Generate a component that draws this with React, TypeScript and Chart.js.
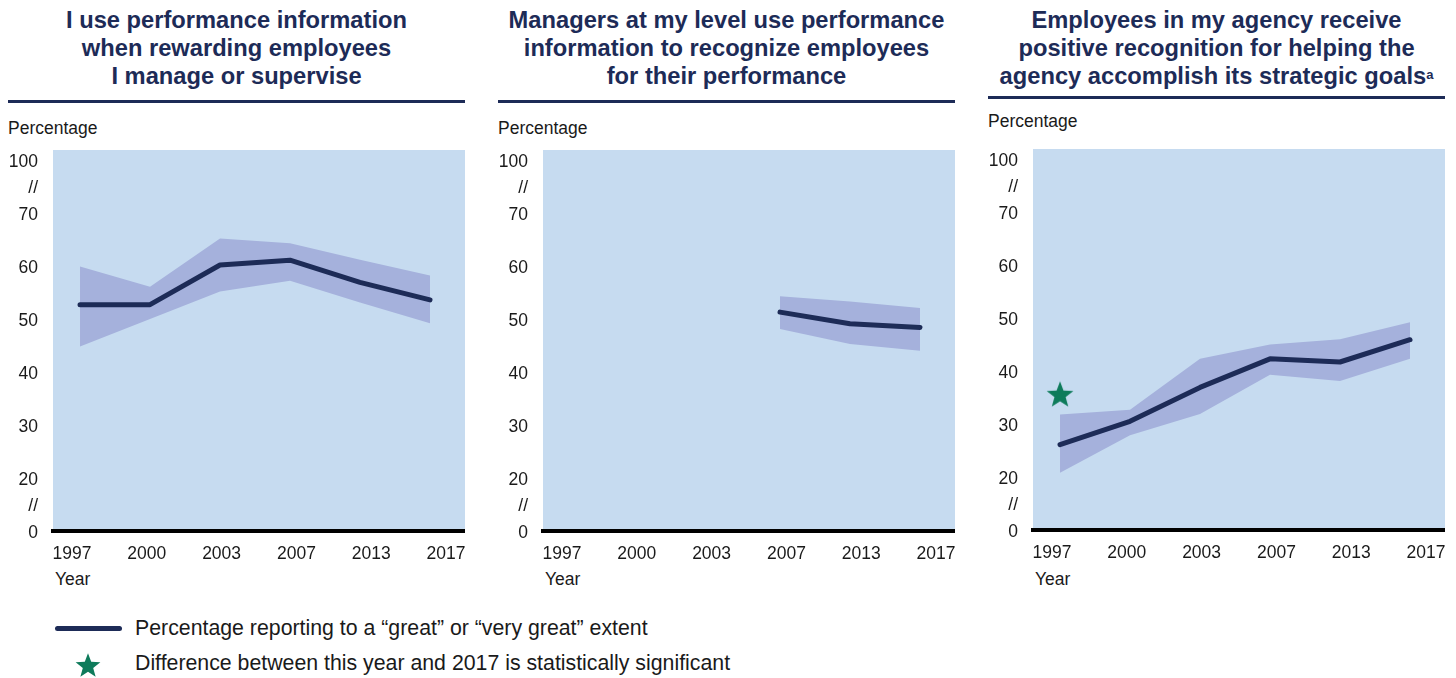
import React, { useEffect, useRef } from "react";
import { Chart, registerables } from "chart.js";

Chart.register(...registerables);

// ---------- data ----------
const years = ["1997", "2000", "2003", "2007", "2013", "2017"];

// broken y axis: 0 and 100 are drawn one step beyond 20 and 70
const yTickValues = [10, 15, 20, 30, 40, 50, 60, 70, 75, 80];
const yTickLabels = ["0", "//", "20", "30", "40", "50", "60", "70", "//", "100"];

const titles1 = ["I use performance information", "when rewarding employees", "I manage or supervise"];
const titles2 = ["Managers at my level use performance", "information to recognize employees", "for their performance"];
const titles3 = ["Employees in my agency receive", "positive recognition for helping the", "agency accomplish its strategic goals"];

const p1Line = [52.7, 52.7, 60.2, 61.1, 56.9, 53.6];
const p1Upper = [59.9, 56.1, 65.2, 64.3, 61.2, 58.2];
const p1Lower = [44.8, 50.0, 55.2, 57.2, 53.1, 49.2];

const p2Line = [null, null, null, 51.3, 49.1, 48.4];
const p2Upper = [null, null, null, 54.3, 53.3, 52.1];
const p2Lower = [null, null, null, 48.1, 45.3, 44.0];

const p3Line = [26.1, 30.5, 36.9, 42.3, 41.7, 45.9];
const p3Upper = [31.8, 32.7, 42.3, 45.0, 46.0, 49.2];
const p3Lower = [20.8, 27.9, 31.9, 39.3, 38.1, 42.3];

const p3StarYears = ["1997"];
const p3StarValues = [35.7];

const legendLine = "Percentage reporting to a \u201cgreat\u201d or \u201cvery great\u201d extent";
const legendStar = "Difference between this year and 2017 is statistically significant";

// ---------- styles ----------
const NAVY = "#1d2b57";
const BAND = "#a5b1dc";
const PLOT_BG = "#c6dbf0";
const GREEN = "#0e7b5b";
const TEXT = "#1a1a1a";
const FONT = "'Liberation Sans', Arial, sans-serif";

function makeStar(r: number, color: string) {
  const s = Math.ceil(r * 2) + 2;
  const c = document.createElement("canvas");
  c.width = s;
  c.height = s;
  const ctx = c.getContext("2d")!;
  ctx.fillStyle = color;
  ctx.beginPath();
  for (let i = 0; i < 10; i++) {
    const rad = i % 2 === 0 ? r : r * 0.42;
    const a = -Math.PI / 2 + (i * Math.PI) / 5;
    const x = s / 2 + rad * Math.cos(a);
    const y = s / 2 + 1.5 + rad * Math.sin(a);
    if (i === 0) ctx.moveTo(x, y);
    else ctx.lineTo(x, y);
  }
  ctx.closePath();
  ctx.fill();
  return c;
}

const plotBg = {
  id: "plotBg",
  beforeDraw(chart: any) {
    const { ctx, chartArea } = chart;
    ctx.save();
    ctx.fillStyle = PLOT_BG;
    ctx.fillRect(chartArea.left, chartArea.top, chartArea.right - chartArea.left, chartArea.bottom - chartArea.top);
    ctx.restore();
  },
};

function toPts(arr: (number | null)[]) {
  const out: { x: number; y: number }[] = [];
  arr.forEach((v, i) => {
    if (v !== null) out.push({ x: i, y: v });
  });
  return out;
}

type PanelProps = {
  line: (number | null)[];
  upper: (number | null)[];
  lower: (number | null)[];
  starYears?: string[];
  starValues?: number[];
  left: number;
  top: number;
};

function PanelChart({ line, upper, lower, starYears = [], starValues = [], left, top }: PanelProps) {
  const ref = useRef<HTMLCanvasElement>(null);
  useEffect(() => {
    const starImg = makeStar(14, GREEN);
    const starPts = starYears.map((y, i) => ({ x: years.indexOf(y), y: starValues[i] }));
    const tickFont = { family: FONT, size: 17.5 };
    const chart = new Chart(ref.current!, {
      type: "line",
      data: {
        datasets: [
          { data: toPts(upper), fill: "+1", backgroundColor: BAND, borderWidth: 0, pointRadius: 0 } as any,
          { data: toPts(lower), fill: false, borderWidth: 0, pointRadius: 0 },
          {
            data: toPts(line),
            fill: false,
            borderColor: NAVY,
            borderWidth: 5,
            borderCapStyle: "round",
            borderJoinStyle: "round",
            pointRadius: 0,
            tension: 0,
          },
          { data: starPts, showLine: false, pointStyle: starImg, pointRadius: 14 } as any,
        ],
      },
      options: {
        animation: false,
        responsive: false,
        maintainAspectRatio: false,
        events: [],
        layout: { autoPadding: false, padding: { top: 10, left: 0, right: 0, bottom: 0 } },
        plugins: {
          legend: { display: false },
          tooltip: { enabled: false },
          filler: { drawTime: "beforeDatasetsDraw" },
        } as any,
        scales: {
          x: { type: "linear", display: false, min: -0.386, max: 5.5 },
          x2: {
            type: "linear",
            position: "bottom",
            min: -0.254,
            max: 5.254,
            grid: { display: false, drawTicks: false },
            border: { display: true, color: "#000", width: 4 },
            afterBuildTicks: (s: any) => {
              s.ticks = years.map((_, i) => ({ value: i }));
            },
            afterFit: (s: any) => {
              s.height = 35;
              s.paddingLeft = 0;
              s.paddingRight = 0;
            },
            ticks: {
              callback: (_v: any, i: number) => years[i],
              color: TEXT,
              font: tickFont,
              padding: 13,
              autoSkip: false,
              maxRotation: 0,
            },
          },
          y: {
            type: "linear",
            min: 10,
            max: 81.89,
            grid: { display: false, drawTicks: false },
            border: { display: false },
            afterBuildTicks: (s: any) => {
              s.ticks = yTickValues.map((v) => ({ value: v }));
            },
            afterFit: (s: any) => {
              s.width = 45;
              s.paddingTop = 0;
              s.paddingBottom = 0;
            },
            ticks: {
              callback: (_v: any, i: number) => yTickLabels[i],
              color: TEXT,
              font: tickFont,
              padding: 15,
              labelOffset: 2,
              autoSkip: false,
            },
          },
        } as any,
      },
      plugins: [plotBg],
    });
    return () => chart.destroy();
  }, []);
  return (
    <canvas
      ref={ref}
      width={457}
      height={426}
      style={{ position: "absolute", left, top, width: 457, height: 426, display: "block" }}
    />
  );
}

function Header({ lines, left, top, sup, ruleTop, pctTop }: { lines: string[]; left: number; top: number; sup?: string; ruleTop: number; pctTop: number }) {
  return (
    <>
      <div
        style={{
          position: "absolute",
          left,
          top,
          width: 457,
          textAlign: "center",
          fontFamily: FONT,
          fontWeight: "bold",
          fontSize: 23.7,
          lineHeight: "28px",
          color: NAVY,
          whiteSpace: "nowrap",
        }}
      >
        {lines.map((l, i) => (
          <div key={i} style={{ height: 28 }}>
            {l}
            {sup && i === lines.length - 1 ? <span style={{ fontSize: 13, position: "relative", top: -5 }}>{sup}</span> : null}
          </div>
        ))}
      </div>
      <div style={{ position: "absolute", left, top: ruleTop, width: 457, height: 3, background: NAVY }} />
      <div style={{ position: "absolute", left, top: pctTop, fontFamily: FONT, fontSize: 17.5, lineHeight: "20px", color: TEXT }}>
        Percentage
      </div>
    </>
  );
}

export default function App() {
  const panels = [
    { left: 0, line: p1Line, upper: p1Upper, lower: p1Lower, dy: 0 },
    { left: 490, line: p2Line, upper: p2Upper, lower: p2Lower, dy: 0 },
    { left: 980, line: p3Line, upper: p3Upper, lower: p3Lower, dy: -1 },
  ];
  return (
    <div style={{ position: "relative", width: 1440, height: 670 }}>
      <Header lines={titles1} left={0} top={-2} ruleTop={92} pctTop={110} />
      <Header lines={titles2} left={490} top={-2} ruleTop={92} pctTop={110} />
      <Header lines={titles3} left={980} top={-2} sup="a" ruleTop={88} pctTop={103} />
      {panels.map((p, i) => (
        <React.Fragment key={i}>
          <PanelChart
            line={p.line}
            upper={p.upper}
            lower={p.lower}
            starYears={i === 2 ? p3StarYears : []}
            starValues={i === 2 ? p3StarValues : []}
            left={p.left}
            top={132 + p.dy}
          />
          <div style={{ position: "absolute", left: p.left + 47, top: 561, fontFamily: FONT, fontSize: 17.5, lineHeight: "20px", color: TEXT }}>
            Year
          </div>
        </React.Fragment>
      ))}
      <div style={{ position: "absolute", left: 47, top: 618, width: 67, height: 5, borderRadius: 3, background: NAVY }} />
      <div style={{ position: "absolute", left: 127, top: 608, fontFamily: FONT, fontSize: 21.3, lineHeight: "24px", color: TEXT, whiteSpace: "nowrap" }}>
        {legendLine}
      </div>
      <svg style={{ position: "absolute", left: 67, top: 644 }} width="26" height="26" viewBox="0 0 26 26">
        <polygon
          fill={GREEN}
          points={Array.from({ length: 10 }, (_, i) => {
            const r = i % 2 === 0 ? 13 : 13 * 0.42;
            const a = -Math.PI / 2 + (i * Math.PI) / 5;
            return `${(13 + r * Math.cos(a)).toFixed(2)},${(14.2 + r * Math.sin(a)).toFixed(2)}`;
          }).join(" ")}
        />
      </svg>
      <div style={{ position: "absolute", left: 127, top: 643, fontFamily: FONT, fontSize: 21.3, lineHeight: "24px", color: TEXT, whiteSpace: "nowrap" }}>
        {legendStar}
      </div>
    </div>
  );
}
